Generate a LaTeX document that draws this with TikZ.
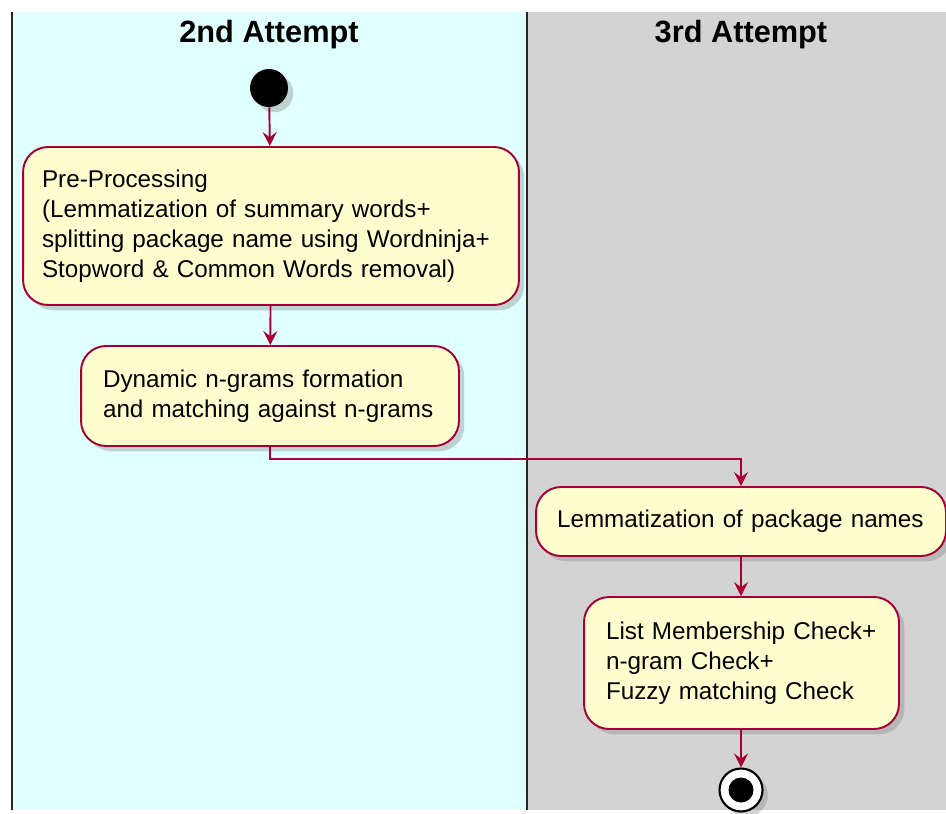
\documentclass[tikz,border=0pt]{standalone}
\usepackage{fontspec}
\setmainfont{Liberation Sans}
\usetikzlibrary{positioning,shapes,calc,arrows.meta,shadows}

\definecolor{lanecyan}{HTML}{E0FFFF}
\definecolor{lanegray}{HTML}{D3D3D3}
\definecolor{actfill}{HTML}{FEFECE}
\definecolor{actline}{HTML}{A80036}

\begin{document}
\begin{tikzpicture}[x=0.02cm,y=-0.02cm,
	act/.style={draw=actline, line width=1.1pt, fill=actfill, rounded corners=0.5cm, align=left,
		font=\fontsize{13.8}{17}\selectfont, drop shadow={shadow xshift=3pt, shadow yshift=-3pt, opacity=.35, fill=black!50}},
	flow/.style={draw=actline, line width=1.1pt, -{Stealth[length=8pt, width=8pt, inset=3pt]}},
	lanetitle/.style={font=\fontsize{17.5}{21}\bfseries\selectfont}]
			\useasboundingbox (0,0) rectangle (946,814);
			\fill[lanecyan] (12,12) rectangle (527,810);
			\fill[lanegray] (527,12) rectangle (946,810);
			\draw[line width=1.5pt, black!85] (12,12) -- (12,810);
			\draw[line width=1.5pt, black!85] (527,12) -- (527,810);
			\node[lanetitle] (lanetwo) at (269,35) {2nd Attempt};
			\node[lanetitle] (lanethree) at (741,35) {3rd Attempt};
			\node[circle, fill=black, inner sep=0pt, minimum size=0.76cm, drop shadow={shadow xshift=3pt, shadow yshift=-3pt, opacity=.35, fill=black!50}] (start) at (269,88) {};
			\node[act, minimum height=3.16cm, inner xsep=0.38cm, text width=9.16cm] (pre) at (271,226) {\mbox{Pre-Processing}\\\mbox{(Lemmatization of summary words+}\\\mbox{splitting package name using Wordninja+}\\\mbox{Stopword \& Common Words removal)}};
			\node[act, minimum height=2cm, inner xsep=0.44cm, text width=6.68cm] (ngram) at (270,396) {\mbox{Dynamic n-grams formation}\\\mbox{and matching against n-grams}};
			\node[act, minimum height=1.38cm, inner xsep=0.42cm, text width=7.36cm] (lemma) at (741,521.5) {\mbox{Lemmatization of package names}};
			\node[act, minimum height=2.64cm, inner xsep=0.44cm, text width=5.42cm] (check) at (741.5,663) {\mbox{List Membership Check+}\\\mbox{n-gram Check+}\\\mbox{Fuzzy matching Check}};
			\node[circle, draw=black, line width=1.2pt, fill=white, inner sep=0pt, minimum size=0.86cm, drop shadow={shadow xshift=3pt, shadow yshift=-3pt, opacity=.35, fill=black!50}] (stop) at (741,790) {};
			\fill[black] (stop.center) circle (0.25cm);
			\draw[flow] (start) -- (pre);
			\draw[flow] (pre) -- (ngram);
			\draw[flow] (ngram.south) -- ++(0,12) -| (lemma.north);
			\draw[flow] (lemma) -- (check.north -| lemma.south);
			\draw[flow] (check.south -| stop.north) -- (stop);
\end{tikzpicture}
\end{document}
